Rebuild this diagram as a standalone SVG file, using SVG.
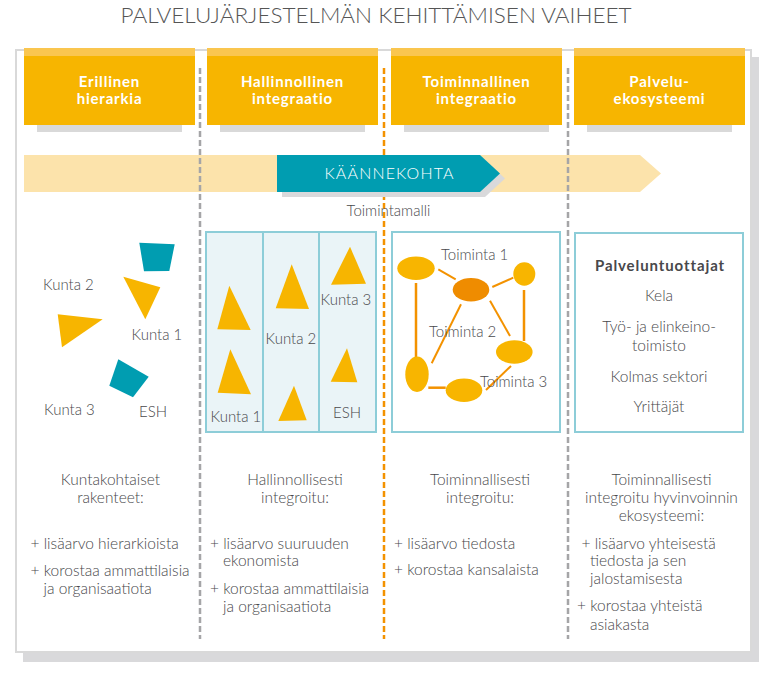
<svg xmlns="http://www.w3.org/2000/svg" width="771" height="677" viewBox="0 0 771 677">
<style>
text{font-family:Lato,"Open Sans","Liberation Sans",sans-serif;fill:#48484b;font-weight:300;font-size:15px}
.d{font-size:15.5px}
.h{fill:#fff;font-weight:700;font-size:15px;text-anchor:middle;letter-spacing:0.8px}
.c{text-anchor:middle}
.hdr{fill:#f7b500}
.band{fill:#fac64f}
.hsh{fill:#d9d9d9}
.dg{stroke:#a5a5a7;stroke-width:2.5;stroke-dasharray:6 3;fill:none}
.do{stroke:#f39200;stroke-width:2.5;stroke-dasharray:6 3;fill:none}
.tri{fill:#f7b500}
.teal{fill:#009db1}
.box{stroke:#8dcdd8;stroke-width:2}
.ell{fill:#f8b500}
.ln{stroke:#f39200;stroke-width:2;fill:none}
</style>
<rect x="0" y="0" width="771" height="677" fill="#fff"/>
<text x="376" y="23" class="c" style="font-size:22px;fill:#555" textLength="511" lengthAdjust="spacingAndGlyphs">PALVELUJÄRJESTELMÄN KEHITTÄMISEN VAIHEET</text>
<rect x="23" y="57" width="736" height="605" fill="#d9d9db"/>
<rect x="16" y="50" width="735" height="602" fill="#fff" stroke="#d9d9d9" stroke-width="2"/>

<g id="phase1">
<rect class="hsh" x="37" y="125" width="145" height="7"/>
<rect class="hdr" x="24" y="48" width="171" height="77"/>
<rect class="band" x="24" y="48" width="171" height="8"/>
<text class="h" x="109.5" y="86.5">Erillinen</text>
<text class="h" x="109.5" y="104">hierarkia</text>
</g>
<g id="phase2">
<rect class="hsh" x="220" y="125" width="145" height="7"/>
<rect class="hdr" x="207" y="48" width="171" height="77"/>
<rect class="band" x="207" y="48" width="171" height="8"/>
<text class="h" x="292.5" y="86.5">Hallinnollinen</text>
<text class="h" x="292.5" y="104">integraatio</text>
</g>
<g id="phase3">
<rect class="hsh" x="404" y="125" width="145" height="7"/>
<rect class="hdr" x="391" y="48" width="171" height="77"/>
<rect class="band" x="391" y="48" width="171" height="8"/>
<text class="h" x="476.5" y="86.5">Toiminnallinen</text>
<text class="h" x="476.5" y="104">integraatio</text>
</g>
<g id="phase4">
<rect class="hsh" x="587" y="125" width="145" height="7"/>
<rect class="hdr" x="574" y="48" width="171" height="77"/>
<rect class="band" x="574" y="48" width="171" height="8"/>
<text class="h" x="659.5" y="86.5">Palvelu-</text>
<text class="h" x="659.5" y="104">ekosysteemi</text>
</g>

<g id="timeline">
<polygon points="24,155 640,155 661,173.5 640,192 24,192" fill="#fce3ab"/>
</g>

<g id="connectors">
<line class="dg" x1="200" y1="68" x2="200" y2="639"/>
<line class="do" x1="384" y1="68" x2="384" y2="639"/>
<line class="dg" x1="568" y1="68" x2="568" y2="639"/>
</g>

<g id="turning-point">
<polygon points="282,160 485,160 505,178.5 485,197 282,197" fill="#d9d9db"/>
<polygon points="277,155 480,155 500,173.5 480,192 277,192" class="teal"/>
<text x="389" y="179" class="c" style="fill:#fff;font-size:16px" textLength="129" lengthAdjust="spacing">KÄÄNNEKOHTA</text>
<text x="388.5" y="216" class="c">Toimintamalli</text>
</g>

<g id="col1-structure">
<polygon class="teal" points="139.3,242.7 174.7,244.3 169.3,271 144,271.3"/>
<polygon class="tri" points="123.3,276.7 160.3,287.3 145.3,319.3"/>
<polygon class="tri" points="57.7,314.3 102.7,319.3 62,347.3"/>
<polygon class="teal" points="118.3,359.3 148.7,376.7 133,397.3 109.3,385.7"/>
<text x="43" y="289.5">Kunta 2</text>
<text x="131.5" y="340">Kunta 1</text>
<text x="44" y="415">Kunta 3</text>
<text x="139" y="417">ESH</text>
</g>

<g id="col2-structure">
<rect class="box" x="206" y="232" width="170" height="200" fill="#eaf4f7"/>
<line class="box" x1="263" y1="232" x2="263" y2="432"/>
<line class="box" x1="319" y1="232" x2="319" y2="432"/>
<polygon class="tri" points="229.3,285.7 217.3,329.3 250.7,330"/>
<polygon class="tri" points="230.3,349.3 217.7,392.7 251,394.3"/>
<polygon class="tri" points="291.7,264.3 275.7,308.3 309,309"/>
<polygon class="tri" points="294,385.7 278.3,421 306.7,420.3"/>
<polygon class="tri" points="350,246.7 331,284.7 366,283.7"/>
<polygon class="tri" points="347,348.3 330.7,381.7 357.3,382.3"/>
<text x="210.5" y="421.5">Kunta 1</text>
<text x="265.5" y="343.5">Kunta 2</text>
<text x="320.5" y="305">Kunta 3</text>
<text x="333" y="417.5">ESH</text>
</g>

<g id="col3-structure">
<rect class="box" x="392" y="232" width="168" height="200" fill="#fff"/>
<line class="ln" x1="438.3" y1="269.3" x2="455.7" y2="279.3"/>
<line class="ln" x1="492.3" y1="287" x2="513.3" y2="277.7"/>
<line class="ln" x1="416" y1="283" x2="416" y2="357" style="stroke-width:2.5"/>
<line class="ln" x1="524" y1="290" x2="524" y2="341" style="stroke-width:2.5"/>
<line class="ln" x1="490" y1="300.7" x2="510" y2="336"/>
<line class="ln" x1="461" y1="304.3" x2="431.7" y2="363.3"/>
<line class="ln" x1="428.3" y1="387.7" x2="445.7" y2="387.7" style="stroke-width:2.5"/>
<line class="ln" x1="486" y1="390" x2="511" y2="366"/>
<ellipse class="ell" cx="416" cy="268.3" rx="18.7" ry="11.7"/>
<ellipse cx="471" cy="289.7" rx="18.3" ry="11.7" fill="#ef8c00"/>
<ellipse class="ell" cx="524.3" cy="274" rx="11" ry="11.7"/>
<ellipse class="ell" cx="514.3" cy="352" rx="18.3" ry="11.7"/>
<ellipse class="ell" cx="417" cy="374.3" rx="11.7" ry="17.7"/>
<ellipse class="ell" cx="464" cy="390.3" rx="18.3" ry="11.7"/>
<text x="441" y="259.5">Toiminta 1</text>
<text x="429" y="336.5">Toiminta 2</text>
<text x="480" y="386.5">Toiminta 3</text>
</g>

<g id="col4-structure">
<rect class="box" x="575" y="233" width="168" height="199" fill="#fff"/>
<text x="660" y="271" class="c" style="font-weight:700;font-size:15px;letter-spacing:0.9px">Palveluntuottajat</text>
<text x="659" y="301" class="c d">Kela</text>
<text x="659" y="331.5" class="c d">Työ- ja elinkeino-</text>
<text x="659" y="350.5" class="c d">toimisto</text>
<text x="659" y="381.5" class="c d">Kolmas sektori</text>
<text x="659" y="411.5" class="c d">Yrittäjät</text>
</g>

<g id="col1-desc">
<text x="110.5" y="485" class="c d">Kuntakohtaiset</text>
<text x="110.5" y="502.5" class="c d">rakenteet:</text>
<text x="30.5" y="549" class="d">+ lisäarvo hierarkioista</text>
<text x="30.5" y="576" class="d">+ korostaa ammattilaisia</text>
<text x="43.5" y="593.5" class="d">ja organisaatiota</text>
</g>
<g id="col2-desc">
<text x="295" y="485" class="c d">Hallinnollisesti</text>
<text x="295" y="502.5" class="c d">integroitu:</text>
<text x="210" y="549" class="d">+ lisäarvo suuruuden</text>
<text x="223" y="566" class="d">ekonomista</text>
<text x="210" y="593.5" class="d">+ korostaa ammattilaisia</text>
<text x="223" y="611.5" class="d">ja organisaatiota</text>
</g>
<g id="col3-desc">
<text x="480" y="485" class="c d">Toiminnallisesti</text>
<text x="480" y="502.5" class="c d">integroitu:</text>
<text x="394" y="549" class="d">+ lisäarvo tiedosta</text>
<text x="394" y="575" class="d">+ korostaa kansalaista</text>
</g>
<g id="col4-desc">
<text x="661.5" y="485" class="c d">Toiminnallisesti</text>
<text x="661.5" y="502.5" class="c d">integroitu hyvinvoinnin</text>
<text x="661.5" y="521" class="c d">ekosysteemi:</text>
<text x="581.5" y="549" class="d">+ lisäarvo yhteisestä</text>
<text x="590" y="566" class="d">tiedosta ja sen</text>
<text x="590" y="583.5" class="d">jalostamisesta</text>
<text x="577" y="610.5" class="d">+ korostaa yhteistä</text>
<text x="590" y="630" class="d">asiakasta</text>
</g>
</svg>
